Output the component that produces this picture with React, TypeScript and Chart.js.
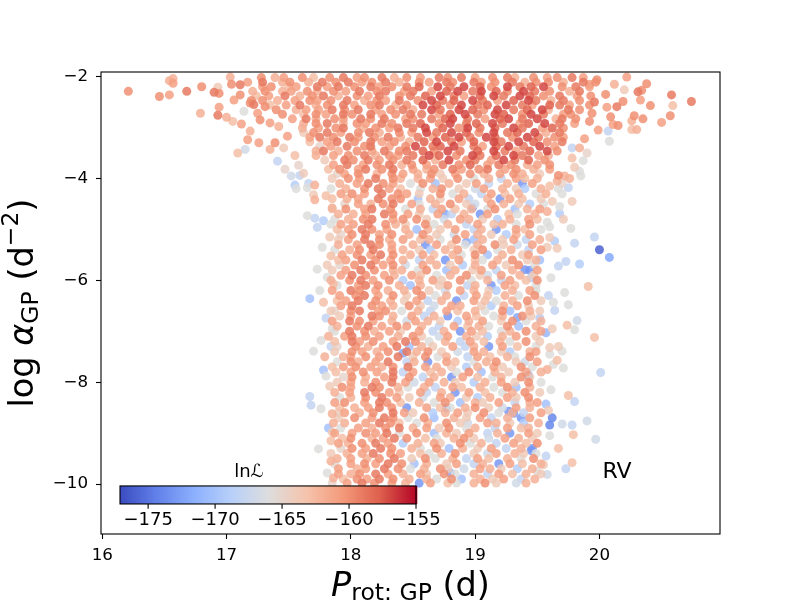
import React, { useEffect, useRef } from "react";
import { Chart, registerables } from "chart.js";

Chart.register(...registerables);

// one sample: [P_rot:GP (d), log alpha_GP, lnL]
type Sample = [number, number, number];
// one band of samples sharing log alpha: [log alpha_GP, [[P_rot:GP, lnL], ...]]
type Band = [number, [number, number][]];

const xTicks = [16, 17, 18, 19, 20];
const yTicks = [-10, -8, -6, -4, -2];
const cbarTicks = [-175, -170, -165, -160, -155];
const lnLMin = -177.1;
const lnLMax = -155;

// sparse tail of the ridge, short periods
const ridgeLeftTail: Sample[] = [
  [16.21, -2.29, -160], [16.46, -2.39, -160], [16.54, -2.36, -161], [16.54, -2.08, -162], [16.57, -2.04, -162], [16.57, -2.13, -161],
  [16.68, -2.29, -159], [16.8, -2.2, -160], [16.79, -2.72, -162], [16.93, -2.21, -164], [16.9, -2.31, -159], [16.94, -2.33, -160],
  [16.94, -2.6, -161], [16.93, -2.76, -159], [17.0, -2.8, -162], [17.05, -2.88, -163], [17.03, -2.01, -162], [17.04, -2.15, -160],
  [17.06, -2.46, -161], [17.09, -3.5, -163], [17.15, -3.43, -167], [17.17, -3.24, -161], [17.14, -2.68, -166], [17.11, -2.16, -159],
  [17.11, -2.36, -160], [17.19, -2.52, -160], [17.19, -3.07, -162], [17.26, -3.3, -161], [17.22, -2.55, -159], [17.31, -2.59, -160],
  [17.35, -2.91, -161], [17.35, -3.43, -162], [17.39, -3.3, -160], [17.41, -3.66, -168], [17.47, -3.82, -165], [17.46, -3.4, -164],
  [17.49, -3.17, -161], [17.27, -2.85, -160], [17.42, -2.98, -162], [17.12, -2.93, -161], [17.25, -2.72, -161], [17.55, -3.55, -163],
  [17.58, -3.74, -165], [17.52, -3.95, -167], [17.62, -3.9, -164], [17.66, -4.1, -168], [17.56, -4.2, -166], [17.7, -4.32, -164],
];

// sparse tail of the ridge, long periods
const ridgeRightTail: Sample[] = [
  [20.22, -2.01, -161], [20.38, -2.14, -160], [20.58, -2.36, -159], [20.74, -2.49, -159], [20.59, -2.57, -163], [20.57, -2.77, -160],
  [20.5, -2.9, -161], [20.35, -2.83, -160], [20.41, -2.57, -160], [20.33, -2.46, -161], [20.31, -2.3, -159], [20.34, -2.27, -160],
  [20.28, -2.77, -160], [20.26, -2.87, -162], [20.26, -3.04, -163], [20.3, -3.04, -162], [20.2, -2.26, -164], [20.19, -2.49, -160],
  [20.14, -2.59, -159], [20.15, -2.96, -160], [20.11, -2.94, -161], [20.09, -2.79, -160], [20.07, -3.07, -168], [20.08, -3.27, -166],
  [19.98, -2.06, -160], [19.99, -3.05, -161], [20.05, -2.35, -160], [20.06, -2.6, -161], [19.96, -2.5, -159], [19.94, -2.72, -160],
  [19.92, -2.88, -160], [19.88, -3.22, -161], [19.84, -3.4, -162], [19.9, -3.5, -165], [19.78, -3.6, -163], [19.8, -3.78, -164],
  [19.72, -3.95, -162], [19.85, -3.95, -166], [19.7, -4.1, -165], [20.12, -2.15, -162], [19.92, -2.15, -161], [19.78, -3.4, -168],
  [19.87, -3.65, -166], [19.67, -3.94, -160], [19.76, -4.0, -162], [19.84, -3.86, -166], [19.67, -4.2, -166],
];

// dense ridge at high log alpha
const ridgeBands: Band[] = [
  [-2.02, [[17.28, -160], [17.39, -162], [17.46, -161], [17.61, -160], [17.7, -163], [17.83, -160], [17.94, -159], [18.05, -161], [18.11, -160], [18.25, -159], [18.35, -162], [18.45, -160], [18.56, -161], [18.71, -159], [18.78, -160], [18.89, -159], [19.0, -161], [19.14, -160], [19.26, -159], [19.32, -162], [19.47, -160], [19.58, -161], [19.66, -160], [19.78, -159], [19.87, -161]]],
  [-2.11, [[17.17, -161], [17.29, -159], [17.45, -162], [17.51, -160], [17.66, -162], [17.77, -159], [17.88, -160], [17.98, -159], [18.09, -161], [18.17, -160], [18.28, -159], [18.39, -162], [18.55, -160], [18.63, -161], [18.77, -159], [18.82, -160], [18.99, -159], [19.05, -161], [19.16, -160], [19.3, -159], [19.4, -162], [19.49, -160], [19.59, -160], [19.71, -162], [19.87, -159], [19.97, -160]]],
  [-2.2, [[17.29, -161], [17.36, -160], [17.5, -163], [17.56, -161], [17.73, -159], [17.81, -161], [17.9, -159], [18.03, -160], [18.16, -159], [18.23, -161], [18.33, -160], [18.45, -159], [18.55, -158], [18.7, -157], [18.8, -159], [18.91, -157], [19.04, -158], [19.13, -160], [19.26, -157], [19.36, -159], [19.45, -158], [19.55, -157], [19.7, -160], [19.81, -159], [19.92, -161]]],
  [-2.29, [[17.21, -162], [17.31, -160], [17.45, -162], [17.52, -161], [17.65, -160], [17.73, -162], [17.86, -160], [17.96, -161], [18.07, -159], [18.21, -160], [18.28, -159], [18.43, -161], [18.5, -159], [18.65, -161], [18.77, -158], [18.86, -157], [18.98, -159], [19.05, -157], [19.17, -158], [19.26, -160], [19.39, -157], [19.48, -159], [19.6, -160], [19.76, -162], [19.84, -159]]],
  [-2.38, [[17.24, -163], [17.34, -161], [17.47, -159], [17.59, -162], [17.69, -160], [17.78, -159], [17.9, -162], [18.05, -160], [18.14, -161], [18.23, -159], [18.39, -160], [18.48, -159], [18.6, -158], [18.72, -157], [18.83, -159], [18.91, -161], [19.04, -158], [19.15, -157], [19.23, -159], [19.36, -157], [19.44, -158], [19.55, -160], [19.68, -159], [19.82, -161], [19.93, -160]]],
  [-2.47, [[17.2, -160], [17.29, -160], [17.41, -162], [17.55, -161], [17.67, -160], [17.73, -161], [17.84, -160], [17.97, -159], [18.11, -162], [18.21, -160], [18.28, -161], [18.39, -159], [18.54, -160], [18.65, -157], [18.74, -159], [18.83, -158], [18.98, -157], [19.06, -159], [19.18, -161], [19.31, -158], [19.43, -157], [19.49, -159], [19.61, -162], [19.71, -159], [19.84, -160]]],
  [-2.56, [[17.35, -163], [17.48, -161], [17.59, -159], [17.72, -162], [17.81, -160], [17.94, -159], [18.03, -161], [18.16, -160], [18.23, -159], [18.36, -162], [18.45, -160], [18.58, -157], [18.69, -158], [18.8, -160], [18.89, -157], [19.02, -159], [19.1, -158], [19.25, -157], [19.38, -159], [19.46, -161], [19.6, -158], [19.68, -159], [19.76, -161], [19.92, -160]]],
  [-2.65, [[17.4, -160], [17.56, -162], [17.64, -161], [17.74, -161], [17.85, -159], [17.95, -160], [18.06, -159], [18.2, -161], [18.32, -160], [18.42, -159], [18.5, -162], [18.65, -157], [18.72, -159], [18.87, -157], [18.98, -158], [19.07, -160], [19.18, -157], [19.31, -159], [19.42, -158], [19.54, -157], [19.59, -162], [19.75, -159], [19.84, -160]]],
  [-2.74, [[17.45, -160], [17.62, -163], [17.72, -160], [17.8, -161], [17.94, -159], [18.01, -160], [18.16, -159], [18.25, -161], [18.36, -160], [18.48, -159], [18.57, -159], [18.71, -161], [18.8, -158], [18.92, -157], [19.02, -159], [19.16, -157], [19.23, -158], [19.38, -160], [19.45, -157], [19.55, -159], [19.71, -161], [19.77, -160]]],
  [-2.83, [[17.53, -161], [17.64, -159], [17.72, -162], [17.87, -160], [17.94, -161], [18.08, -159], [18.16, -160], [18.27, -159], [18.44, -161], [18.5, -160], [18.65, -159], [18.76, -158], [18.82, -157], [18.94, -159], [19.08, -161], [19.2, -158], [19.27, -157], [19.38, -159], [19.5, -157], [19.65, -162], [19.7, -159], [19.81, -160]]],
  [-2.92, [[17.62, -162], [17.72, -160], [17.81, -159], [17.94, -162], [18.05, -160], [18.12, -161], [18.25, -159], [18.33, -160], [18.45, -159], [18.56, -158], [18.71, -160], [18.8, -157], [18.93, -159], [19.01, -158], [19.14, -157], [19.22, -159], [19.36, -161], [19.43, -158], [19.56, -157], [19.68, -159], [19.8, -161]]],
  [-3.01, [[17.61, -162], [17.74, -161], [17.88, -160], [17.94, -159], [18.1, -162], [18.2, -160], [18.31, -161], [18.38, -159], [18.5, -159], [18.6, -157], [18.74, -158], [18.87, -160], [18.94, -157], [19.04, -159], [19.16, -158], [19.31, -157], [19.38, -159], [19.54, -161], [19.62, -158], [19.71, -160]]],
  [-3.1, [[17.62, -164], [17.7, -160], [17.81, -159], [17.92, -161], [18.06, -160], [18.15, -159], [18.23, -162], [18.39, -160], [18.49, -161], [18.61, -157], [18.69, -159], [18.81, -157], [18.93, -158], [19.03, -160], [19.15, -157], [19.26, -159], [19.34, -158], [19.48, -157], [19.57, -162], [19.68, -159]]],
  [-3.19, [[17.67, -161], [17.75, -159], [17.86, -160], [17.99, -159], [18.06, -161], [18.19, -160], [18.3, -159], [18.4, -162], [18.54, -159], [18.66, -161], [18.76, -158], [18.87, -157], [18.96, -159], [19.09, -157], [19.16, -158], [19.3, -160], [19.42, -157], [19.51, -159], [19.64, -160], [19.71, -161]]],
  [-3.28, [[17.67, -163], [17.81, -161], [17.89, -159], [18.03, -160], [18.16, -159], [18.25, -161], [18.35, -160], [18.47, -162], [18.59, -158], [18.69, -157], [18.81, -159], [18.89, -161], [18.99, -158], [19.15, -157], [19.21, -159], [19.35, -157], [19.47, -158], [19.58, -160], [19.7, -159]]],
  [-3.37, [[17.75, -165], [17.84, -161], [17.97, -159], [18.11, -160], [18.16, -159], [18.31, -161], [18.44, -160], [18.52, -157], [18.66, -159], [18.72, -158], [18.83, -157], [18.99, -159], [19.06, -161], [19.17, -158], [19.27, -157], [19.39, -159], [19.52, -157], [19.64, -161]]],
  [-3.46, [[17.72, -162], [17.78, -159], [17.9, -162], [18.05, -160], [18.17, -161], [18.27, -159], [18.39, -160], [18.45, -159], [18.58, -158], [18.67, -160], [18.78, -157], [18.88, -159], [19.02, -158], [19.15, -157], [19.24, -159], [19.33, -161], [19.44, -158], [19.58, -157], [19.66, -160]]],
  [-3.55, [[17.72, -162], [17.86, -161], [17.98, -160], [18.11, -159], [18.2, -162], [18.31, -160], [18.38, -161], [18.5, -159], [18.63, -157], [18.71, -158], [18.85, -160], [18.98, -157], [19.04, -159], [19.17, -158], [19.31, -157], [19.38, -159], [19.51, -161], [19.59, -162]]],
  [-3.64, [[17.79, -164], [17.95, -159], [18.02, -160], [18.14, -159], [18.23, -161], [18.34, -160], [18.45, -159], [18.58, -158], [18.68, -162], [18.79, -157], [18.93, -160], [19.0, -159], [19.13, -161], [19.23, -157], [19.32, -159], [19.43, -158], [19.56, -160]]],
  [-3.73, [[17.86, -161], [17.97, -159], [18.1, -161], [18.21, -160], [18.31, -159], [18.41, -162], [18.49, -160], [18.61, -161], [18.74, -159], [18.87, -160], [18.96, -158], [19.1, -161], [19.19, -159], [19.29, -160], [19.42, -162], [19.5, -161], [19.6, -160]]],
  [-3.82, [[17.82, -163], [17.91, -160], [18.06, -161], [18.12, -159], [18.25, -160], [18.34, -159], [18.5, -161], [18.61, -162], [18.67, -160], [18.82, -159], [18.89, -161], [19.03, -160], [19.1, -159], [19.24, -161], [19.33, -160], [19.47, -162], [19.6, -161]]],
  [-3.91, [[17.89, -165], [17.95, -161], [18.06, -160], [18.21, -162], [18.33, -160], [18.42, -161], [18.54, -162], [18.65, -160], [18.72, -164], [18.84, -161], [18.96, -160], [19.07, -162], [19.2, -161], [19.31, -160], [19.38, -162], [19.52, -164]]],
];

// dense column at low log alpha
const columnBands: Band[] = [
  [-4.0, [[17.85, -164], [17.98, -160], [18.07, -161], [18.2, -159], [18.34, -160], [18.4, -162], [18.54, -162], [18.64, -161], [18.74, -164], [18.86, -160], [18.99, -166], [19.11, -162], [19.21, -168], [19.33, -161], [19.4, -163], [19.5, -162]]],
  [-4.1, [[17.91, -162], [18.05, -161], [18.14, -159], [18.26, -160], [18.34, -161], [18.48, -166], [18.58, -160], [18.68, -170], [18.79, -162], [18.93, -164], [19.01, -161], [19.11, -168], [19.26, -162], [19.38, -173], [19.46, -161]]],
  [-4.2, [[17.84, -166], [17.96, -162], [18.11, -160], [18.22, -159], [18.31, -161], [18.4, -163], [18.56, -166], [18.66, -162], [18.73, -160], [18.87, -164], [19.0, -167], [19.07, -161], [19.22, -162], [19.33, -164], [19.4, -169], [19.53, -162]]],
  [-4.3, [[17.92, -161], [18.01, -160], [18.11, -161], [18.25, -159], [18.38, -160], [18.45, -161], [18.55, -164], [18.72, -160], [18.82, -166], [18.91, -162], [19.05, -168], [19.13, -161], [19.24, -163], [19.35, -162], [19.49, -166]]],
  [-4.4, [[17.85, -163], [17.97, -162], [18.06, -161], [18.22, -159], [18.33, -160], [18.4, -160], [18.54, -170], [18.64, -162], [18.72, -164], [18.87, -161], [18.95, -168], [19.1, -162], [19.2, -173], [19.28, -161], [19.38, -163], [19.53, -164]]],
  [-4.5, [[17.95, -165], [18.06, -161], [18.16, -162], [18.26, -160], [18.34, -159], [18.49, -161], [18.55, -166], [18.68, -162], [18.8, -160], [18.93, -164], [19.0, -167], [19.13, -161], [19.23, -162], [19.35, -164], [19.44, -169]]],
  [-4.6, [[17.85, -164], [17.96, -160], [18.11, -161], [18.17, -159], [18.32, -160], [18.44, -166], [18.56, -162], [18.66, -168], [18.73, -161], [18.84, -163], [18.97, -162], [19.1, -166], [19.16, -160], [19.32, -170], [19.42, -162], [19.52, -161]]],
  [-4.7, [[17.9, -162], [18.02, -162], [18.12, -161], [18.27, -159], [18.34, -160], [18.46, -161], [18.55, -164], [18.7, -161], [18.81, -168], [18.91, -162], [19.04, -173], [19.1, -161], [19.27, -163], [19.34, -166], [19.48, -162]]],
  [-4.8, [[17.87, -166], [17.98, -162], [18.1, -160], [18.17, -159], [18.34, -161], [18.42, -160], [18.53, -160], [18.61, -164], [18.75, -167], [18.88, -161], [18.95, -162], [19.06, -164], [19.18, -169], [19.28, -162], [19.43, -161], [19.5, -163]]],
  [-4.9, [[17.92, -161], [18.02, -161], [18.14, -159], [18.28, -160], [18.36, -162], [18.44, -164], [18.6, -160], [18.67, -166], [18.78, -162], [18.93, -168], [19.02, -161], [19.15, -163], [19.22, -162], [19.33, -166], [19.44, -160]]],
  [-5.0, [[17.89, -163], [17.98, -161], [18.09, -159], [18.17, -160], [18.29, -161], [18.44, -162], [18.53, -170], [18.62, -162], [18.72, -164], [18.84, -161], [18.99, -168], [19.05, -162], [19.17, -173], [19.33, -161], [19.4, -163], [19.53, -166]]],
  [-5.1, [[17.92, -165], [18.01, -160], [18.12, -159], [18.23, -161], [18.33, -160], [18.47, -162], [18.58, -160], [18.69, -164], [18.83, -167], [18.92, -161], [19.02, -162], [19.13, -164], [19.25, -169], [19.33, -162], [19.44, -161]]],
  [-5.2, [[17.9, -164], [17.98, -161], [18.11, -159], [18.23, -160], [18.31, -162], [18.42, -161], [18.56, -163], [18.63, -162], [18.72, -166], [18.85, -160], [18.99, -170], [19.06, -162], [19.22, -164], [19.31, -161], [19.41, -168], [19.52, -162]]],
  [-5.3, [[17.9, -162], [18.05, -161], [18.16, -159], [18.23, -160], [18.33, -161], [18.5, -162], [18.6, -173], [18.69, -161], [18.81, -163], [18.92, -166], [19.02, -162], [19.16, -160], [19.23, -164], [19.34, -167], [19.46, -161]]],
  [-5.4, [[17.87, -166], [17.99, -162], [18.07, -160], [18.18, -159], [18.33, -161], [18.42, -162], [18.55, -164], [18.64, -169], [18.76, -162], [18.86, -161], [18.99, -164], [19.06, -160], [19.18, -166], [19.29, -162], [19.43, -168], [19.53, -161]]],
  [-5.5, [[17.93, -161], [18.05, -160], [18.16, -161], [18.24, -159], [18.34, -160], [18.48, -162], [18.58, -161], [18.67, -163], [18.82, -162], [18.89, -166], [19.0, -160], [19.1, -170], [19.22, -162], [19.38, -164], [19.43, -161]]],
  [-5.6, [[17.9, -163], [17.96, -161], [18.09, -159], [18.2, -160], [18.32, -161], [18.42, -162], [18.55, -168], [18.64, -162], [18.76, -173], [18.87, -161], [19.0, -163], [19.06, -166], [19.18, -162], [19.3, -160], [19.42, -164], [19.49, -162]]],
  [-5.7, [[17.91, -165], [18.03, -160], [18.16, -159], [18.26, -161], [18.34, -160], [18.44, -167], [18.58, -161], [18.69, -162], [18.8, -164], [18.9, -169], [19.0, -162], [19.14, -161], [19.25, -164], [19.35, -160], [19.48, -166]]],
  [-5.8, [[17.85, -164], [17.96, -161], [18.08, -159], [18.19, -160], [18.34, -162], [18.41, -162], [18.54, -166], [18.61, -160], [18.77, -170], [18.84, -162], [18.98, -164], [19.05, -161], [19.17, -168], [19.3, -162], [19.44, -173], [19.5, -161]]],
  [-5.9, [[17.92, -161], [18.01, -159], [18.12, -160], [18.27, -161], [18.35, -162], [18.49, -161], [18.56, -163], [18.69, -166], [18.8, -162], [18.93, -160], [19.04, -164], [19.1, -167], [19.21, -161], [19.36, -162], [19.47, -164]]],
  [-6.0, [[17.84, -162], [17.99, -160], [18.08, -159], [18.18, -161], [18.31, -160], [18.42, -169], [18.55, -162], [18.66, -161], [18.73, -164], [18.88, -160], [18.97, -166], [19.1, -162], [19.21, -168], [19.28, -161], [19.41, -163], [19.5, -160]]],
  [-6.1, [[17.89, -166], [18.06, -161], [18.12, -159], [18.22, -160], [18.39, -162], [18.48, -170], [18.56, -162], [18.71, -164], [18.78, -161], [18.94, -168], [19.0, -162], [19.13, -173], [19.24, -161], [19.32, -163], [19.49, -166]]],
  [-6.2, [[17.85, -161], [18.0, -159], [18.07, -160], [18.2, -161], [18.3, -162], [18.43, -162], [18.53, -160], [18.63, -164], [18.76, -167], [18.88, -161], [18.99, -162], [19.11, -164], [19.17, -169], [19.3, -162], [19.44, -161], [19.49, -166]]],
  [-6.3, [[17.91, -161], [18.04, -160], [18.11, -159], [18.22, -161], [18.34, -160], [18.45, -164], [18.57, -160], [18.68, -166], [18.77, -162], [18.91, -168], [19.01, -161], [19.1, -163], [19.24, -162], [19.35, -166], [19.48, -160]]],
  [-6.4, [[17.89, -163], [17.96, -161], [18.06, -159], [18.2, -160], [18.32, -162], [18.43, -164], [18.53, -161], [18.62, -168], [18.73, -162], [18.85, -173], [18.99, -161], [19.08, -163], [19.17, -166], [19.3, -162], [19.42, -160], [19.53, -164]]],
  [-6.5, [[17.92, -161], [18.01, -159], [18.17, -160], [18.25, -161], [18.34, -162], [18.47, -160], [18.56, -164], [18.67, -167], [18.81, -161], [18.88, -162], [19.05, -164], [19.13, -169], [19.23, -162], [19.34, -161], [19.43, -164]]],
  [-6.6, [[17.87, -165], [18.0, -160], [18.07, -159], [18.22, -161], [18.28, -160], [18.41, -166], [18.54, -162], [18.64, -168], [18.77, -161], [18.86, -163], [19.0, -162], [19.08, -166], [19.22, -160], [19.28, -170], [19.44, -162], [19.52, -164]]],
  [-6.7, [[17.91, -164], [18.0, -161], [18.17, -159], [18.23, -160], [18.34, -162], [18.49, -161], [18.59, -168], [18.67, -162], [18.78, -173], [18.93, -161], [19.01, -163], [19.15, -166], [19.22, -162], [19.38, -160], [19.45, -164]]],
  [-6.8, [[17.85, -161], [17.99, -159], [18.07, -160], [18.18, -161], [18.33, -162], [18.45, -167], [18.52, -161], [18.62, -162], [18.72, -164], [18.86, -169], [18.95, -162], [19.06, -161], [19.21, -164], [19.3, -160], [19.41, -166], [19.53, -162]]],
  [-6.9, [[17.89, -162], [18.05, -160], [18.14, -159], [18.25, -161], [18.37, -160], [18.45, -161], [18.57, -162], [18.71, -168], [18.83, -161], [18.94, -163], [19.03, -162], [19.11, -166], [19.26, -160], [19.35, -170], [19.49, -162]]],
  [-7.0, [[17.87, -166], [17.99, -159], [18.11, -160], [18.19, -162], [18.31, -161], [18.4, -164], [18.55, -161], [18.66, -168], [18.75, -162], [18.88, -173], [18.97, -161], [19.06, -163], [19.21, -166], [19.28, -162], [19.41, -160], [19.53, -161]]],
  [-7.1, [[17.95, -161], [18.01, -159], [18.12, -160], [18.23, -161], [18.38, -162], [18.5, -160], [18.57, -164], [18.71, -167], [18.78, -161], [18.93, -162], [19.01, -164], [19.1, -169], [19.22, -162], [19.33, -161], [19.49, -164]]],
  [-7.2, [[17.87, -163], [18.01, -159], [18.07, -161], [18.18, -160], [18.34, -161], [18.44, -159], [18.52, -160], [18.63, -166], [18.76, -162], [18.88, -168], [18.96, -161], [19.07, -163], [19.2, -162], [19.28, -166], [19.41, -160], [19.52, -164]]],
  [-7.3, [[17.89, -165], [18.04, -160], [18.14, -162], [18.26, -161], [18.37, -159], [18.47, -170], [18.57, -162], [18.66, -164], [18.82, -161], [18.92, -168], [18.99, -162], [19.11, -173], [19.22, -161], [19.34, -163], [19.49, -166]]],
  [-7.4, [[17.87, -164], [18.01, -160], [18.09, -161], [18.21, -162], [18.3, -160], [18.45, -159], [18.53, -162], [18.62, -160], [18.73, -164], [18.86, -167], [18.99, -161], [19.07, -162], [19.21, -164], [19.28, -169], [19.44, -162], [19.49, -161]]],
  [-7.5, [[17.94, -162], [18.0, -161], [18.12, -160], [18.23, -161], [18.38, -159], [18.5, -164], [18.6, -160], [18.7, -166], [18.77, -162], [18.94, -168], [19.02, -161], [19.12, -163], [19.26, -162], [19.32, -166], [19.44, -160]]],
  [-7.6, [[17.89, -166], [18.0, -160], [18.06, -162], [18.2, -161], [18.3, -159], [18.45, -168], [18.51, -162], [18.62, -173], [18.77, -161], [18.84, -163], [18.99, -166], [19.09, -162], [19.17, -160], [19.33, -164], [19.4, -167], [19.5, -161]]],
  [-7.7, [[17.94, -161], [18.04, -160], [18.16, -161], [18.25, -162], [18.34, -160], [18.46, -159], [18.6, -161], [18.69, -162], [18.81, -164], [18.93, -169], [19.02, -162], [19.15, -161], [19.22, -164], [19.37, -160], [19.46, -166]]],
  [-7.8, [[17.88, -163], [18.0, -161], [18.1, -160], [18.21, -161], [18.34, -159], [18.42, -168], [18.5, -161], [18.64, -163], [18.73, -162], [18.85, -166], [18.95, -160], [19.05, -170], [19.16, -162], [19.27, -164], [19.41, -161], [19.53, -162]]],
  [-7.9, [[17.94, -165], [18.01, -160], [18.12, -162], [18.27, -161], [18.34, -159], [18.47, -160], [18.58, -168], [18.67, -162], [18.81, -173], [18.9, -161], [19.02, -163], [19.14, -166], [19.21, -162], [19.37, -160], [19.44, -164]]],
  [-8.0, [[17.89, -164], [18.0, -161], [18.11, -162], [18.2, -160], [18.33, -159], [18.44, -161], [18.51, -167], [18.63, -161], [18.75, -162], [18.84, -164], [18.99, -169], [19.08, -162], [19.21, -161], [19.32, -164], [19.43, -160], [19.53, -166]]],
  [-8.1, [[17.93, -160], [18.0, -161], [18.17, -159], [18.23, -160], [18.38, -162], [18.46, -166], [18.59, -162], [18.68, -168], [18.82, -161], [18.89, -163], [19.04, -162], [19.15, -166], [19.26, -160], [19.33, -170], [19.44, -162]]],
  [-8.2, [[17.87, -162], [17.99, -161], [18.11, -159], [18.2, -160], [18.31, -161], [18.39, -164], [18.56, -161], [18.61, -168], [18.73, -162], [18.84, -173], [18.95, -161], [19.08, -163], [19.22, -166], [19.3, -162], [19.4, -160], [19.52, -164]]],
  [-8.3, [[17.91, -166], [18.0, -162], [18.12, -160], [18.25, -159], [18.37, -161], [18.47, -164], [18.58, -167], [18.72, -161], [18.8, -162], [18.93, -164], [19.02, -169], [19.12, -162], [19.26, -161], [19.33, -164], [19.43, -160]]],
  [-8.4, [[17.87, -161], [17.95, -160], [18.11, -161], [18.23, -159], [18.29, -160], [18.4, -163], [18.55, -162], [18.67, -166], [18.76, -160], [18.88, -170], [19.0, -162], [19.06, -164], [19.19, -161], [19.32, -168], [19.44, -162], [19.5, -161]]],
  [-8.5, [[17.91, -163], [18.03, -162], [18.14, -161], [18.23, -159], [18.33, -160], [18.45, -173], [18.61, -161], [18.72, -163], [18.8, -166], [18.92, -162], [19.0, -160], [19.11, -164], [19.22, -167], [19.33, -161], [19.44, -162]]],
  [-8.6, [[17.9, -165], [17.95, -161], [18.07, -162], [18.18, -160], [18.34, -159], [18.43, -161], [18.5, -164], [18.66, -169], [18.76, -162], [18.86, -161], [18.94, -164], [19.07, -160], [19.19, -166], [19.3, -162], [19.39, -168], [19.53, -161]]],
  [-8.7, [[17.9, -164], [18.03, -160], [18.17, -161], [18.27, -159], [18.34, -160], [18.46, -166], [18.59, -160], [18.67, -170], [18.83, -162], [18.93, -164], [19.04, -161], [19.13, -168], [19.26, -162], [19.37, -173], [19.44, -161]]],
  [-8.8, [[17.86, -162], [17.95, -162], [18.12, -161], [18.23, -159], [18.32, -160], [18.39, -163], [18.53, -166], [18.62, -162], [18.77, -160], [18.88, -164], [18.94, -167], [19.1, -161], [19.17, -162], [19.28, -164], [19.39, -169], [19.51, -162]]],
  [-8.9, [[17.92, -166], [18.06, -161], [18.17, -162], [18.28, -160], [18.39, -159], [18.5, -162], [18.61, -161], [18.71, -164], [18.79, -160], [18.93, -166], [19.0, -162], [19.16, -168], [19.26, -161], [19.37, -163], [19.43, -162]]],
  [-9.0, [[17.87, -161], [18.01, -161], [18.12, -160], [18.2, -161], [18.29, -159], [18.39, -166], [18.53, -160], [18.67, -170], [18.77, -162], [18.85, -164], [18.95, -161], [19.1, -168], [19.18, -162], [19.28, -173], [19.43, -161], [19.5, -164]]],
  [-9.1, [[17.93, -163], [18.0, -160], [18.17, -162], [18.26, -161], [18.35, -159], [18.45, -160], [18.6, -163], [18.69, -166], [18.83, -162], [18.91, -160], [18.99, -164], [19.11, -167], [19.24, -161], [19.35, -162], [19.46, -164]]],
  [-9.2, [[17.9, -161], [17.98, -162], [18.09, -160], [18.2, -159], [18.3, -161], [18.42, -169], [18.54, -162], [18.67, -161], [18.72, -164], [18.88, -160], [18.96, -166], [19.05, -162], [19.17, -168], [19.31, -161], [19.41, -163], [19.5, -160]]],
  [-9.3, [[17.92, -165], [18.01, -160], [18.12, -161], [18.24, -159], [18.33, -160], [18.49, -162], [18.56, -166], [18.69, -160], [18.79, -170], [18.9, -162], [19.02, -164], [19.13, -161], [19.25, -168], [19.37, -162], [19.46, -173]]],
  [-9.4, [[17.84, -164], [17.97, -162], [18.09, -161], [18.18, -159], [18.32, -160], [18.4, -161], [18.56, -163], [18.63, -166], [18.73, -162], [18.84, -160], [18.99, -164], [19.1, -167], [19.17, -161], [19.32, -162], [19.39, -164], [19.49, -166]]],
  [-9.5, [[17.89, -162], [18.0, -161], [18.13, -162], [18.23, -160], [18.35, -159], [18.49, -164], [18.6, -160], [18.68, -166], [18.82, -162], [18.93, -168], [19.02, -161], [19.11, -163], [19.26, -162], [19.37, -166], [19.47, -160]]],
  [-9.6, [[17.87, -166], [18.0, -161], [18.11, -160], [18.2, -161], [18.3, -159], [18.41, -160], [18.51, -170], [18.61, -162], [18.77, -164], [18.85, -161], [18.99, -168], [19.06, -162], [19.19, -173], [19.28, -161], [19.38, -163], [19.53, -162]]],
  [-9.7, [[17.9, -161], [18.05, -162], [18.12, -161], [18.27, -159], [18.38, -160], [18.48, -166], [18.59, -162], [18.72, -160], [18.78, -164], [18.91, -167], [19.04, -161], [19.12, -162], [19.21, -164], [19.34, -169], [19.46, -162]]],
  [-9.8, [[17.9, -161], [18.0, -162], [18.07, -160], [18.2, -159], [18.3, -161], [18.42, -162], [18.56, -161], [18.61, -164], [18.75, -160], [18.84, -166], [18.99, -162], [19.1, -168], [19.19, -161], [19.3, -163], [19.41, -162], [19.53, -164]]],
  [-9.9, [[17.94, -163], [18.05, -160], [18.13, -161], [18.23, -159], [18.34, -160], [18.47, -162], [18.61, -162], [18.69, -166], [18.81, -160], [18.89, -170], [19.04, -162], [19.14, -164], [19.23, -161], [19.37, -168], [19.48, -162]]],
  [-9.98, [[17.85, -165], [17.97, -161], [18.09, -159], [18.19, -160], [18.33, -161], [18.44, -162], [18.55, -173], [18.64, -161], [18.78, -163], [18.85, -166], [18.99, -162], [19.08, -160], [19.17, -164], [19.33, -167], [19.41, -162]]],
];

// scattered samples left of the column
const columnLeftEdge: Sample[] = [
  [17.55, -4.13, -169], [17.59, -3.94, -168], [17.65, -4.18, -166], [17.71, -4.13, -162], [17.71, -4.42, -162], [17.8, -4.34, -163],
  [17.65, -4.73, -166], [17.71, -4.78, -168], [17.78, -4.83, -169], [17.73, -4.96, -168], [17.84, -4.9, -166], [17.73, -5.78, -166],
  [17.81, -5.94, -166], [17.81, -5.7, -164], [17.84, -5.52, -163], [17.67, -6.36, -170], [17.78, -6.43, -163], [17.86, -6.07, -163],
  [17.8, -6.74, -168], [17.85, -6.95, -166], [17.76, -7.18, -166], [17.82, -7.1, -162], [17.84, -7.3, -168], [17.7, -7.39, -166],
  [17.78, -7.76, -170], [17.8, -7.88, -166], [17.85, -7.7, -163], [17.67, -8.28, -168], [17.68, -8.45, -168], [17.76, -8.52, -166],
  [17.82, -8.9, -170], [17.85, -8.62, -162], [17.74, -9.31, -166], [17.84, -9.15, -163], [17.85, -8.98, -164], [17.84, -9.55, -162],
  [17.81, -9.78, -166], [17.86, -9.88, -162], [17.83, -5.15, -164], [17.85, -4.58, -162], [17.77, -5.35, -166], [17.84, -6.6, -164],
  [17.83, -8.08, -164], [17.79, -7.5, -162], [17.75, -6.2, -166],
];

// scattered samples right of the column
const columnRightEdge: Sample[] = [
  [20.0, -5.4, -176], [20.08, -5.55, -172], [19.96, -5.15, -168], [19.84, -5.68, -169], [19.8, -5.27, -168], [19.73, -5.63, -168],
  [19.67, -5.72, -168], [19.64, -5.23, -169], [19.66, -5.37, -164], [19.77, -4.98, -166], [19.71, -4.8, -164], [19.68, -4.69, -169],
  [19.58, -4.86, -166], [19.6, -5.16, -164], [19.52, -5.6, -170], [19.45, -5.95, -169], [19.4, -5.79, -173], [19.91, -6.12, -163],
  [19.72, -6.24, -166], [19.64, -6.59, -168], [19.63, -6.43, -166], [19.75, -6.48, -166], [19.82, -6.79, -167], [19.8, -6.97, -166],
  [19.74, -6.88, -163], [19.57, -7.03, -171], [19.52, -6.74, -169], [19.6, -7.32, -164], [19.67, -7.3, -164], [19.7, -7.39, -166],
  [19.96, -7.12, -163], [19.66, -7.57, -163], [19.63, -7.65, -166], [20.01, -7.81, -168], [19.71, -7.72, -166], [19.43, -7.87, -173],
  [19.75, -8.26, -163], [19.8, -8.38, -168], [19.57, -8.43, -170], [19.62, -8.7, -174], [19.6, -8.84, -174], [19.78, -8.84, -168],
  [19.7, -8.82, -167], [19.9, -8.76, -167], [19.97, -9.12, -167], [19.79, -9.03, -163], [19.67, -9.3, -163], [19.45, -9.34, -173],
  [19.78, -9.58, -163], [19.73, -9.7, -168], [19.58, -9.81, -167], [19.5, -9.75, -166], [19.34, -6.73, -172], [19.31, -8.61, -173],
  [18.98, -4.57, -172], [18.93, -5.25, -172], [18.76, -4.7, -172], [18.42, -7.43, -172], [18.77, -8.51, -172], [18.8, -9.78, -172],
  [19.27, -8.57, -173], [19.6, -4.15, -163], [19.7, -4.3, -166], [19.62, -4.45, -164], [19.57, -4.3, -162], [19.66, -4.05, -162],
  [19.75, -4.18, -168], [19.55, -4.5, -166], [19.78, -4.45, -164], [19.58, -4.65, -162], [19.68, -4.55, -166], [19.6, -4.95, -166],
  [19.58, -5.35, -164], [19.61, -5.95, -166], [19.59, -6.3, -168], [19.62, -6.95, -164], [19.6, -7.45, -166], [19.58, -7.75, -162],
  [19.61, -8.15, -166], [19.59, -8.55, -164], [19.6, -9.05, -166], [19.57, -9.45, -168], [19.55, -9.62, -164],
];

const FONT = "'DejaVu Sans', sans-serif";

const coolwarmStops = [
  [59, 76, 192], [98, 130, 234], [141, 176, 254], [184, 208, 249], [221, 221, 221],
  [245, 196, 173], [244, 154, 123], [222, 96, 77], [180, 4, 38],
];

const coolwarm = (t: number, alpha = 1) => {
  const u = Math.min(1, Math.max(0, t)) * (coolwarmStops.length - 1);
  const i = Math.min(Math.floor(u), coolwarmStops.length - 2);
  const f = u - i;
  const c = coolwarmStops[i].map((v, k) => Math.round(v + (coolwarmStops[i + 1][k] - v) * f));
  return `rgba(${c[0]},${c[1]},${c[2]},${alpha})`;
};

const lnLColor = (v: number, alpha = 1) => coolwarm((v - lnLMin) / (lnLMax - lnLMin), alpha);

const minus = (v: number | string) => String(v).replace("-", "\u2212");

const unband = (bands: Band[]): Sample[] =>
  bands.flatMap(([y, pts]) => pts.map(([x, l]) => [x, y, l] as Sample));

type Seg = { t: string; size: number; italic?: boolean; dy?: number };

// draws a run of text pieces (sub/superscripts) centred on x
const drawRich = (ctx: CanvasRenderingContext2D, segs: Seg[], x: number, y: number, rotate = false) => {
  const fontOf = (s: Seg) => `${s.italic ? "italic " : ""}${s.size}px ${FONT}`;
  let total = 0;
  const widths = segs.map((s) => {
    ctx.font = fontOf(s);
    const w = ctx.measureText(s.t).width;
    total += w;
    return w;
  });
  ctx.save();
  ctx.translate(x, y);
  if (rotate) ctx.rotate(-Math.PI / 2);
  ctx.textAlign = "left";
  ctx.textBaseline = "alphabetic";
  ctx.fillStyle = "#000";
  let cx = -total / 2;
  segs.forEach((s, i) => {
    ctx.font = fontOf(s);
    ctx.fillText(s.t, cx, s.dy || 0);
    cx += widths[i];
  });
  ctx.restore();
};

const overlayPlugin = {
  id: "overlay",
  afterDraw(chart: any) {
    const { ctx, chartArea: a } = chart;
    const w = a.right - a.left;
    const h = a.bottom - a.top;
    ctx.save();

    // axes frame
    ctx.strokeStyle = "#000";
    ctx.lineWidth = 1.1;
    ctx.strokeRect(a.left, a.top, w, h);

    // colour bar inset
    const bx0 = a.left + 0.0307 * w;
    const bx1 = a.left + 0.5089 * w;
    const by0 = a.top + 0.896 * h;
    const by1 = a.top + 0.935 * h;
    for (let px = bx0; px < bx1; px += 1) {
      ctx.fillStyle = coolwarm((px - bx0) / (bx1 - bx0));
      ctx.fillRect(px, by0, 1.3, by1 - by0);
    }
    ctx.strokeRect(bx0, by0, bx1 - bx0, by1 - by0);
    ctx.fillStyle = "#000";
    ctx.font = `18px ${FONT}`;
    ctx.textAlign = "center";
    ctx.textBaseline = "top";
    cbarTicks.forEach((v) => {
      const px = bx0 + ((v - lnLMin) / (lnLMax - lnLMin)) * (bx1 - bx0);
      ctx.beginPath();
      ctx.moveTo(px, by1);
      ctx.lineTo(px, by1 + 4.7);
      ctx.stroke();
      ctx.fillText(minus(v), px, by1 + 7);
    });
    drawRich(ctx, [
      { t: "ln", size: 18 },
      { t: "\u2112", size: 18 },
    ], a.left + 0.239 * w, a.top + 0.877 * h);

    // panel tag
    ctx.font = `22px ${FONT}`;
    ctx.textAlign = "left";
    ctx.textBaseline = "alphabetic";
    ctx.fillText("RV", a.left + 0.81 * w, a.top + 0.878 * h);

    // axis titles
    drawRich(ctx, [
      { t: "P", size: 33.5, italic: true },
      { t: "rot: GP", size: 23.5, dy: 4 },
      { t: " (d)", size: 33.5 },
    ], (a.left + a.right) / 2, 596);
    drawRich(ctx, [
      { t: "log ", size: 33.5 },
      { t: "\u03b1", size: 33.5, italic: true },
      { t: "GP", size: 23.5, dy: 4.5 },
      { t: " (d", size: 33.5 },
      { t: "\u22122", size: 23.5, dy: -15 },
      { t: ")", size: 33.5 },
    ], 33, (a.top + a.bottom) / 2, true);

    ctx.restore();
  },
};

// best samples drawn last, on top
const samples: Sample[] = [
  ...columnLeftEdge,
  ...columnRightEdge,
  ...ridgeLeftTail,
  ...ridgeRightTail,
  ...unband(columnBands),
  ...unband(ridgeBands),
].sort((p, q) => p[2] - q[2]);

const App = () => {
  const canvasRef = useRef<HTMLCanvasElement>(null);

  useEffect(() => {
    if (!canvasRef.current) return;

    const axisFont = { family: FONT, size: 16.7 };

    const chart = new Chart(canvasRef.current, {
      type: "scatter",
      data: {
        datasets: [
          {
            data: samples.map(([x, y]) => ({ x, y })),
            pointBackgroundColor: samples.map((s) => lnLColor(s[2], 0.85)),
            pointBorderWidth: 0,
            pointRadius: 4.5,
            pointHoverRadius: 4.5,
          },
        ],
      },
      options: {
        animation: false,
        responsive: true,
        maintainAspectRatio: false,
        layout: { padding: { top: 72, right: 80, left: 0, bottom: 0 } },
        plugins: {
          legend: { display: false },
          tooltip: { enabled: false },
        },
        scales: {
          x: {
            type: "linear",
            min: 15.99,
            max: 20.97,
            afterBuildTicks: (scale: any) => {
              scale.ticks = xTicks.map((value) => ({ value }));
            },
            afterFit: (scale: any) => {
              scale.height = 66;
            },
            grid: { drawOnChartArea: false, tickLength: 5, tickWidth: 1.1, tickColor: "#000" },
            border: { display: false },
            ticks: {
              color: "#000",
              font: axisFont,
              padding: 7,
              maxRotation: 0,
              callback: (v: any) => minus(v),
            },
          },
          y: {
            type: "linear",
            min: -10.98,
            max: -1.91,
            afterBuildTicks: (scale: any) => {
              scale.ticks = yTicks.map((value) => ({ value }));
            },
            afterFit: (scale: any) => {
              scale.width = 101;
            },
            grid: { drawOnChartArea: false, tickLength: 5, tickWidth: 1.1, tickColor: "#000" },
            border: { display: false },
            ticks: {
              color: "#000",
              font: axisFont,
              padding: 8,
              callback: (v: any) => minus(v),
            },
          },
        },
      },
      plugins: [overlayPlugin],
    });

    return () => {
      chart.destroy();
    };
  }, []);

  return (
    <div style={{ position: "absolute", left: 0, top: 0, width: 800, height: 600, background: "#fff" }}>
      <canvas ref={canvasRef}></canvas>
    </div>
  );
};

export default App;
